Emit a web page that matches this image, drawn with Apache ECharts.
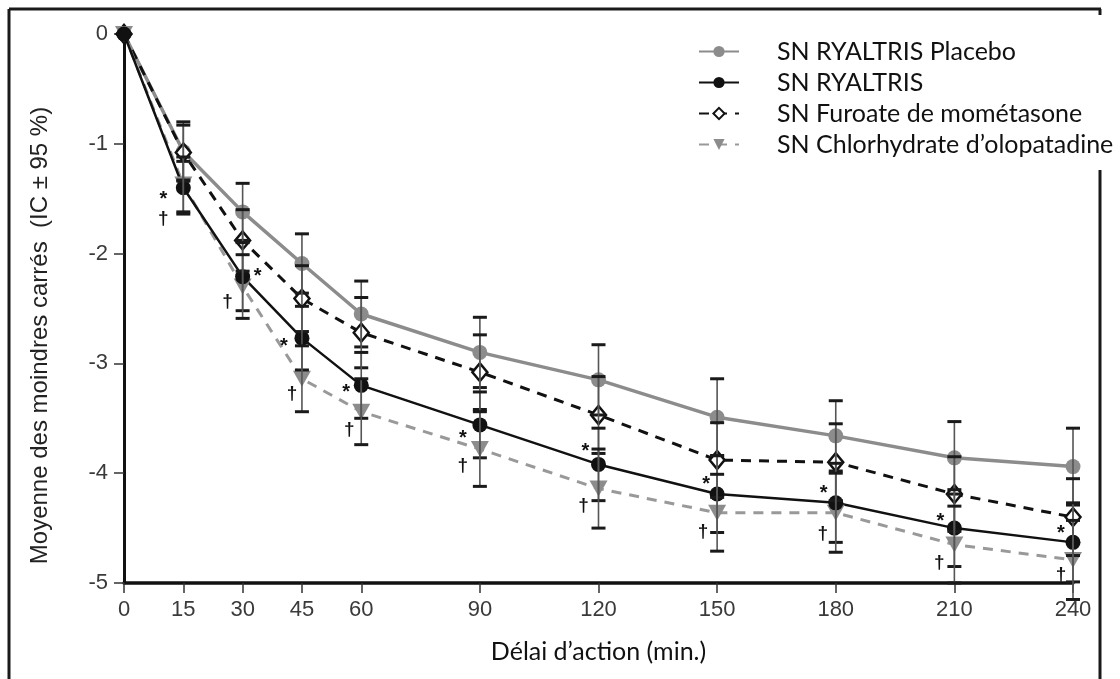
<!DOCTYPE html>
<html><head><meta charset="utf-8">
<script src="https://cdn.jsdelivr.net/npm/echarts@6/dist/echarts.min.js"></script>
<style>html,body{margin:0;padding:0;background:#fff}#c{width:1120px;height:679px}</style>
</head><body><div id="c"></div>
<script>
// ---- data ----
const times = [0, 15, 30, 45, 60, 90, 120, 150, 180, 210, 240];
const xTickValues = [0, 15, 30, 45, 60, 90, 120, 150, 180, 210, 240];
const yTickValues = [0, -1, -2, -3, -4, -5];
const seriesNames = ['SN RYALTRIS Placebo', 'SN RYALTRIS', 'SN Furoate de mométasone', 'SN Chlorhydrate d’olopatadine'];
const placebo      = [0, -1.07, -1.62, -2.09, -2.55, -2.90, -3.15, -3.49, -3.66, -3.86, -3.94];
const placeboCI    = [0, 0.27, 0.26, 0.27, 0.30, 0.32, 0.32, 0.35, 0.32, 0.33, 0.35];
const ryaltris     = [0, -1.40, -2.21, -2.77, -3.20, -3.56, -3.92, -4.19, -4.27, -4.50, -4.63];
const ryaltrisCI   = [0, 0.24, 0.31, 0.29, 0.30, 0.30, 0.33, 0.35, 0.36, 0.35, 0.36];
const mometasone   = [0, -1.08, -1.88, -2.41, -2.72, -3.08, -3.47, -3.88, -3.90, -4.19, -4.40];
const mometasoneCI = [0, 0.25, 0.28, 0.30, 0.32, 0.34, 0.35, 0.34, 0.35, 0.34, 0.35];
const olopatadine  = [0, -1.37, -2.30, -3.14, -3.44, -3.78, -4.14, -4.36, -4.36, -4.65, -4.79];
const olopatadineCI= [0, 0.25, 0.29, 0.30, 0.30, 0.34, 0.36, 0.35, 0.36, 0.35, 0.36];
const ryaltrisMark = ['', '*', '*', '*', '*', '*', '*', '*', '*', '*', '*'];
const olopatadineMark = ['', '†', '†', '†', '†', '†', '†', '†', '†', '†', '†'];

// ---- styles (label placement offsets, px) ----
const starOffsets = [[0,0],[-20,12],[15,0],[-18,8],[-15,7],[-17,14],[-13,-13],[-11,-10],[-12,-9],[-14,-7],[-12,-9]];
const daggerOffsets = [[0,0],[-20,34],[-15,15],[-10,15],[-12,18],[-17,17],[-15,17],[-14,19],[-13,21],[-15,18],[-12,15]];

const GRAY = '#8c8c8c';
const DARK = '#111';

function lineData(vals, marks, offs, font) {
  return times.map((t, i) => ({
    value: [t, vals[i]],
    label: marks ? {
      show: !!marks[i], formatter: marks[i], position: 'inside', offset: offs[i],
      color: '#111', fontFamily: 'Liberation Sans', fontSize: font, fontWeight: 'bold'
    } : undefined
  }));
}
function errData(vals, ci) {
  const out = [];
  times.forEach((t, i) => { if (ci[i] > 0) out.push([t, vals[i] - ci[i], vals[i] + ci[i]]); });
  return out;
}
function renderErr(params, api) {
  const x = api.value(0), lo = api.value(1), hi = api.value(2);
  const a = api.coord([x, hi]), b = api.coord([x, lo]);
  const w = 7;
  return {
    type: 'group', children: [
      { type: 'line', shape: { x1: a[0], y1: a[1], x2: b[0], y2: b[1] }, style: { stroke: '#555', lineWidth: 1.6 } },
      { type: 'line', shape: { x1: a[0] - w, y1: a[1], x2: a[0] + w, y2: a[1] }, style: { stroke: '#1a1a1a', lineWidth: 3 } },
      { type: 'line', shape: { x1: b[0] - w, y1: b[1], x2: b[0] + w, y2: b[1] }, style: { stroke: '#1a1a1a', lineWidth: 3 } }
    ]
  };
}
function errSeries(vals, ci) {
  return { type: 'custom', renderItem: renderErr, data: errData(vals, ci), clip: false, z: 3, silent: true,
           encode: { x: 0, y: [1, 2] } };
}

const chart = echarts.init(document.getElementById('c'), null, { renderer: 'canvas' });
chart.setOption({
  animation: false,
  backgroundColor: '#fff',
  grid: { left: 124, right: 47, top: 34, bottom: 96 },
  legend: {
    orient: 'vertical', left: 693, top: 34, itemGap: 6, itemWidth: 40, itemHeight: 14,
    data: seriesNames,
    textStyle: { fontFamily: 'Lato', fontSize: 25, color: '#111', padding: [0, 0, 0, 33] }
  },
  xAxis: {
    type: 'value', min: 0, max: 240,
    name: 'Délai d’action (min.)', nameLocation: 'middle', nameGap: 56,
    nameTextStyle: { fontFamily: 'Lato', fontSize: 25, color: '#111' },
    axisLine: { onZero: false, lineStyle: { color: '#111', width: 3.5 } },
    axisTick: { customValues: xTickValues, length: 10, lineStyle: { color: '#333', width: 1.5 } },
    axisLabel: { customValues: xTickValues, margin: 16, fontFamily: 'Liberation Sans', fontSize: 22, color: '#3a3a3a' },
    splitLine: { show: false }
  },
  yAxis: {
    type: 'value', min: -5, max: 0, interval: 1,
    name: 'Moyenne des moindres carrés  (IC ± 95 %)', nameLocation: 'middle', nameGap: 72,
    nameTextStyle: { fontFamily: 'Liberation Sans', fontSize: 24, color: '#222', padding: [0, 54, 0, 0] },
    axisLine: { lineStyle: { color: '#111', width: 3 } },
    axisTick: { length: 10, lineStyle: { color: '#333', width: 1.5 } },
    axisLabel: { margin: 16, fontFamily: 'Liberation Sans', fontSize: 22, color: '#3a3a3a' },
    splitLine: { show: false }
  },
  graphic: [
    { type: 'line', shape: { x1: 9, y1: 9, x2: 1101, y2: 9 }, style: { stroke: '#1a1a1a', lineWidth: 3 } },
    { type: 'line', shape: { x1: 9, y1: 9, x2: 9, y2: 679 }, style: { stroke: '#1a1a1a', lineWidth: 3 } },
    { type: 'line', shape: { x1: 1100, y1: 9, x2: 1100, y2: 15 }, style: { stroke: '#1a1a1a', lineWidth: 3 } },
    { type: 'line', shape: { x1: 1100, y1: 170, x2: 1100, y2: 679 }, style: { stroke: '#1a1a1a', lineWidth: 3 } }
  ],
  series: [
    errSeries(placebo, placeboCI),
    errSeries(mometasone, mometasoneCI),
    errSeries(ryaltris, ryaltrisCI),
    errSeries(olopatadine, olopatadineCI),
    { name: seriesNames[0], type: 'line', data: lineData(placebo), symbol: 'circle', symbolSize: 15,
      itemStyle: { color: GRAY }, lineStyle: { color: GRAY, width: 3.5 }, z: 2 },
    { name: seriesNames[2], type: 'line', data: lineData(mometasone), symbol: 'diamond', symbolSize: [15, 18],
      itemStyle: { color: '#fff', borderColor: DARK, borderWidth: 2.5 }, lineStyle: { color: DARK, width: 3, type: [10, 8] }, z: 2 },
    { name: seriesNames[3], type: 'line', data: lineData(olopatadine, olopatadineMark, daggerOffsets, 19), symbol: 'triangle', symbolRotate: 180, symbolSize: [18, 16],
      itemStyle: { color: GRAY }, lineStyle: { color: '#999', width: 3, type: [10, 8] }, z: 2 },
    { name: seriesNames[1], type: 'line', data: lineData(ryaltris, ryaltrisMark, starOffsets, 20), symbol: 'circle', symbolSize: 15,
      itemStyle: { color: DARK }, lineStyle: { color: DARK, width: 2.5 }, z: 2 }
  ]
});
</script>
</body></html>
